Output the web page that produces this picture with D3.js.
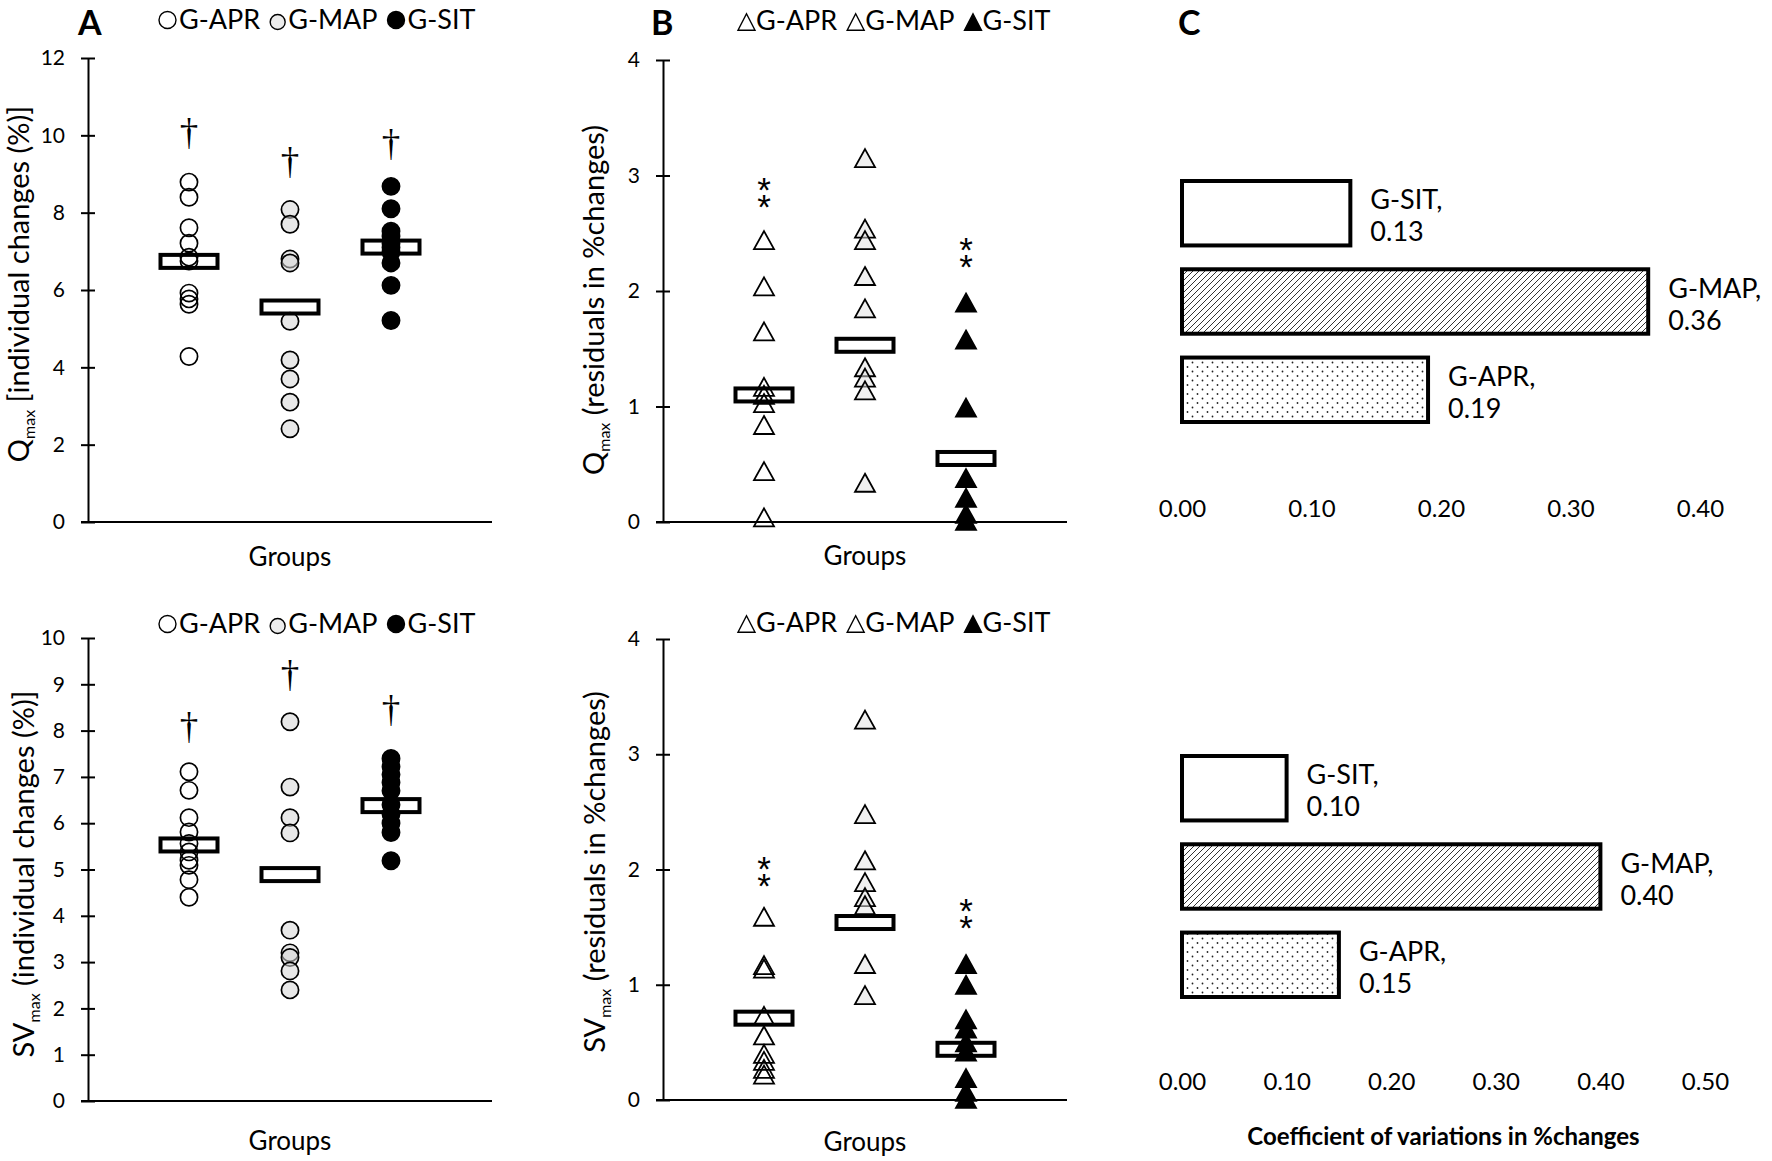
<!DOCTYPE html>
<html>
<head>
<meta charset="utf-8">
<script src="https://cdn.jsdelivr.net/npm/d3@7"></script>
<style>
  body { margin: 0; background: #fff; }
</style>
</head>
<body>
<svg id="fig" width="1772" height="1161" font-family="Lato, 'Open Sans', sans-serif"></svg>
<script>
// ---- data ------------------------------------------------------------
var groups = ["G-APR", "G-MAP", "G-SIT"];

// A top: Qmax, individual changes (%)
var qmaxChangeAPR = [8.79, 8.40, 7.61, 7.21, 6.85, 6.75, 5.92, 5.77, 5.63, 4.28];
var qmaxChangeMAP = [8.08, 7.70, 6.80, 6.70, 5.19, 4.19, 3.70, 3.10, 2.41];
var qmaxChangeSIT = [8.68, 8.10, 7.52, 7.39, 7.20, 7.10, 6.98, 6.70, 6.12, 5.21];
var qmaxChangeMean = [6.74, 5.56, 7.11];
var qmaxChangeDagger = [10.02, 9.27, 9.73];
var qmaxChangeTicks = [0, 2, 4, 6, 8, 10, 12];

// B top: Qmax, residuals in %changes
var qmaxResidAPR = [2.44, 2.04, 1.65, 1.17, 1.10, 1.03, 0.84, 0.44, 0.04];
var qmaxResidMAP = [3.15, 2.54, 2.44, 2.13, 1.85, 1.34, 1.25, 1.14, 0.34];
var qmaxResidSIT = [1.90, 1.58, 0.99, 0.38, 0.21, 0.07, 0.01];
var qmaxResidMean = [1.10, 1.53, 0.55];
var qmaxResidStars = [2.87, null, 2.35];

// A bottom: SVmax, individual changes (%)
var svmaxChangeAPR = [7.11, 6.71, 6.12, 5.81, 5.56, 5.38, 5.20, 5.09, 4.78, 4.40];
var svmaxChangeMAP = [8.19, 6.78, 6.12, 5.79, 3.69, 3.20, 3.10, 2.81, 2.40];
var svmaxChangeSIT = [7.40, 7.22, 7.05, 6.88, 6.70, 6.40, 6.20, 6.00, 5.80, 5.19];
var svmaxChangeMean = [5.53, 4.89, 6.38];
var svmaxChangeDagger = [8.04, 9.16, 8.40];
var svmaxChangeTicks = [0, 1, 2, 3, 4, 5, 6, 7, 8, 9, 10];

// B bottom: SVmax, residuals in %changes
var svmaxResidAPR = [1.59, 1.17, 1.14, 0.73, 0.56, 0.40, 0.34, 0.27, 0.22];
var svmaxResidMAP = [3.30, 2.48, 2.08, 1.89, 1.76, 1.69, 1.18, 0.91];
var svmaxResidSIT = [1.18, 1.00, 0.70, 0.62, 0.50, 0.42, 0.19, 0.07, 0.01];
var svmaxResidMean = [0.71, 1.54, 0.44];
var svmaxResidStars = [2.00, null, 1.635];

var residTicks = [0, 1, 2, 3, 4];

// C: coefficient of variation in %changes (order = groups)
var cvQmax = [0.19, 0.36, 0.13];
var cvSvmax = [0.15, 0.40, 0.10];
var cvQmaxTicks = [0, 0.1, 0.2, 0.3, 0.4];
var cvSvmaxTicks = [0, 0.1, 0.2, 0.3, 0.4, 0.5];

// ---- drawing ---------------------------------------------------------
var svg = d3.select("#fig");
var FONT = "Lato, 'Open Sans', sans-serif";

var defs = svg.append("defs");
defs.append("pattern")
    .attr("id", "hatch").attr("patternUnits", "userSpaceOnUse")
    .attr("width", 6).attr("height", 6)
  .append("path")
    .attr("d", "M-1,1l2,-2M0,6l6,-6M5,7l2,-2")
    .attr("stroke", "#333").attr("stroke-width", 1);
var dots = defs.append("pattern")
    .attr("id", "dots").attr("patternUnits", "userSpaceOnUse")
    .attr("width", 10).attr("height", 9);
dots.append("circle").attr("cx", 2.5).attr("cy", 2.5).attr("r", 0.9).attr("fill", "#222");
dots.append("circle").attr("cx", 7.5).attr("cy", 7).attr("r", 0.9).attr("fill", "#222");

var circleFill = {"G-APR": "none", "G-MAP": "#d6d6d6", "G-SIT": "#000"};
var triFill    = {"G-APR": "none", "G-MAP": "#e2e2e2", "G-SIT": "#000"};

function triPath(w, h) {
  return "M0," + (-h / 2) + "L" + (w / 2) + "," + (h / 2) + "L" + (-w / 2) + "," + (h / 2) + "Z";
}

function scatterPanel(cfg) {
  var g = svg.append("g");

  var x = d3.scalePoint().domain(groups).range([cfg.left, cfg.right]).padding(1);
  var y = d3.scaleLinear().domain([0, cfg.yMax]).range([cfg.bottom, cfg.top]);

  var ax = g.append("g")
      .attr("transform", "translate(" + cfg.left + ",0)")
      .call(d3.axisLeft(y).tickValues(cfg.ticks).tickFormat(d3.format("d"))
        .tickSizeInner(7).tickSizeOuter(0).tickPadding(16));
  ax.attr("font-family", FONT).attr("font-size", 21);
  ax.select(".domain").attr("stroke-width", 2);
  ax.selectAll(".tick line").attr("x1", 7).attr("stroke-width", 2);

  g.append("line")
      .attr("x1", cfg.left - 7).attr("x2", cfg.right)
      .attr("y1", y(0)).attr("y2", y(0))
      .attr("stroke", "#000").attr("stroke-width", 2);

  g.append("text")
      .attr("x", (cfg.left + cfg.right) / 2).attr("y", cfg.groupsY)
      .attr("text-anchor", "middle").attr("font-size", 26)
      .text("Groups");

  // y title with subscript
  var t = g.append("text")
      .attr("transform", "translate(" + cfg.titleX + "," + cfg.titleY + ") rotate(-90)")
      .attr("text-anchor", "middle").attr("font-size", 29);
  t.append("tspan").text(cfg.titleMain);
  t.append("tspan").attr("font-size", 16).attr("dy", 6).text("max");
  t.append("tspan").attr("dy", -6).text(" " + cfg.titleRest);

  var pts = [];
  cfg.series.forEach(function(arr, i) {
    arr.forEach(function(v) { pts.push({group: groups[i], value: v}); });
  });

  if (cfg.shape === "circle") {
    g.selectAll("circle.pt").data(pts).enter().append("circle")
        .attr("class", "pt")
        .attr("cx", d => x(d.group)).attr("cy", d => y(d.value))
        .attr("r", 8.6)
        .attr("fill", d => circleFill[d.group])
        .attr("fill-opacity", d => d.group === "G-MAP" ? 0.55 : 1)
        .attr("stroke", "#000").attr("stroke-width", 1.7);
  } else {
    g.selectAll("path.pt").data(pts).enter().append("path")
        .attr("class", "pt")
        .attr("transform", d => "translate(" + x(d.group) + "," + y(d.value) + ")")
        .attr("d", triPath(20, 18))
        .attr("fill", d => triFill[d.group])
        .attr("fill-opacity", d => d.group === "G-MAP" ? 0.5 : 1)
        .attr("stroke", "#000").attr("stroke-width", 1.8)
        .attr("stroke-linejoin", "miter");
  }

  // mean boxes
  g.selectAll("rect.mean").data(cfg.mean).enter().append("rect")
      .attr("class", "mean")
      .attr("x", (d, i) => x(groups[i]) - 28.5).attr("y", d => y(d) - 6.5)
      .attr("width", 57).attr("height", 13)
      .attr("fill", "none").attr("stroke", "#000").attr("stroke-width", 4);

  if (cfg.dagger) {
    g.selectAll("text.dag").data(cfg.dagger).enter().append("text")
        .attr("class", "dag")
        .attr("x", (d, i) => x(groups[i])).attr("y", d => y(d) + 10)
        .attr("text-anchor", "middle")
        .attr("font-family", "'Liberation Serif', serif").attr("font-size", 37)
        .text("\u2020");
  }
  if (cfg.stars) {
    cfg.stars.forEach(function(s, i) {
      if (s == null) return;
      var st = g.append("text")
          .attr("text-anchor", "middle")
          .attr("font-family", "'Liberation Sans', sans-serif").attr("font-size", 35);
      [-8.6, 8.6].forEach(function(off) {
        st.append("tspan")
            .attr("x", x(groups[i])).attr("y", y(s) + off + 20)
            .text("*");
      });
    });
  }

  legend(cfg.legendX, cfg.legendY, cfg.shape);
}

function legend(x0, y0, shape) {
  var g = svg.append("g");
  var cx = x0;
  groups.forEach(function(name, i) {
    if (shape === "circle") {
      var r = i === 1 ? 7.5 : 8.5;
      g.append("circle")
          .attr("cx", cx + r).attr("cy", y0 - 9 + (i === 1 ? 2 : 0)).attr("r", r)
          .attr("fill", i === 0 ? "#fff" : (i === 1 ? "#ececec" : "#000"))
          .attr("stroke", "#000").attr("stroke-width", 1.4);
      cx += 2 * r + 3;
    } else {
      g.append("path")
          .attr("transform", "translate(" + (cx + 8.5) + "," + (y0 - 8) + ")")
          .attr("d", triPath(17, 16.5))
          .attr("fill", i === 2 ? "#000" : "#fff")
          .attr("stroke", "#000").attr("stroke-width", 1.4);
      cx += 18;
    }
    var t = g.append("text").attr("x", cx).attr("y", y0)
        .attr("font-size", 27).text(name);
    cx += t.node().getComputedTextLength() + 10;
  });
}

function barPanel(cfg) {
  var g = svg.append("g");
  var order = ["G-SIT", "G-MAP", "G-APR"];
  var x = d3.scaleLinear().domain([0, cfg.xMax]).range([cfg.left, cfg.right]);
  var yb = d3.scaleBand().domain(order).range([cfg.top, cfg.bottom]).paddingInner(0.27);
  var fill = {"G-SIT": "#fff", "G-MAP": "url(#hatch)", "G-APR": "url(#dots)"};
  var rows = groups.map((name, i) => ({group: name, value: cfg.values[i]}));

  g.selectAll("rect").data(rows).enter().append("rect")
      .attr("x", x(0)).attr("y", d => yb(d.group))
      .attr("width", d => x(d.value) - x(0)).attr("height", yb.bandwidth())
      .attr("fill", d => fill[d.group])
      .attr("stroke", "#000").attr("stroke-width", 4);

  var lab = g.selectAll("text.lab").data(rows).enter().append("text")
      .attr("class", "lab")
      .attr("font-size", 27);
  lab.append("tspan")
      .attr("x", d => x(d.value) + 20)
      .attr("y", d => yb(d.group) + yb.bandwidth() / 2 - 4)
      .text(d => d.group + ",");
  lab.append("tspan")
      .attr("x", d => x(d.value) + 20)
      .attr("y", d => yb(d.group) + yb.bandwidth() / 2 + 28)
      .text(d => d3.format(".2f")(d.value));

  var ax = g.append("g")
      .attr("transform", "translate(0," + cfg.tickY + ")")
      .call(d3.axisBottom(x).tickValues(cfg.ticks).tickFormat(d3.format(".2f")).tickSize(0).tickPadding(0));
  ax.attr("font-family", FONT).attr("font-size", 24);
  ax.select(".domain").remove();

  if (cfg.title) {
    g.append("text")
        .attr("x", (cfg.left + cfg.right) / 2).attr("y", cfg.titleY)
        .attr("text-anchor", "middle").attr("font-size", 24).attr("font-weight", 700)
        .text(cfg.title);
  }
}

// panel letters
[["A", 78], ["B", 651], ["C", 1178]].forEach(function(p) {
  svg.append("text").attr("x", p[1]).attr("y", 35)
      .attr("font-size", 34).attr("font-weight", 700).text(p[0]);
});

scatterPanel({
  left: 88, right: 492, top: 58, bottom: 522, yMax: 12, ticks: qmaxChangeTicks,
  series: [qmaxChangeAPR, qmaxChangeMAP, qmaxChangeSIT], mean: qmaxChangeMean,
  dagger: qmaxChangeDagger, shape: "circle", groupsY: 566,
  titleX: 29, titleY: 284, titleMain: "Q", titleRest: "[individual changes (%)]",
  legendX: 159, legendY: 29
});

scatterPanel({
  left: 663, right: 1067, top: 60, bottom: 522, yMax: 4, ticks: residTicks,
  series: [qmaxResidAPR, qmaxResidMAP, qmaxResidSIT], mean: qmaxResidMean,
  stars: qmaxResidStars, shape: "triangle", groupsY: 565,
  titleX: 604, titleY: 300, titleMain: "Q", titleRest: "(residuals in %changes)",
  legendX: 738, legendY: 30
});

scatterPanel({
  left: 88, right: 492, top: 638, bottom: 1101, yMax: 10, ticks: svmaxChangeTicks,
  series: [svmaxChangeAPR, svmaxChangeMAP, svmaxChangeSIT], mean: svmaxChangeMean,
  dagger: svmaxChangeDagger, shape: "circle", groupsY: 1150,
  titleX: 34, titleY: 874, titleMain: "SV", titleRest: "(individual changes (%)]",
  legendX: 159, legendY: 633
});

scatterPanel({
  left: 663, right: 1067, top: 639, bottom: 1100, yMax: 4, ticks: residTicks,
  series: [svmaxResidAPR, svmaxResidMAP, svmaxResidSIT], mean: svmaxResidMean,
  stars: svmaxResidStars, shape: "triangle", groupsY: 1151,
  titleX: 605, titleY: 872, titleMain: "SV", titleRest: "(residuals in %changes)",
  legendX: 738, legendY: 632
});

barPanel({
  left: 1182, right: 1700, xMax: 0.4, ticks: cvQmaxTicks,
  top: 181, bottom: 422, values: cvQmax, tickY: 500
});

barPanel({
  left: 1182, right: 1705, xMax: 0.5, ticks: cvSvmaxTicks,
  top: 756, bottom: 997, values: cvSvmax, tickY: 1073,
  title: "Coefficient of variations in %changes", titleY: 1145
});
</script>
</body>
</html>
